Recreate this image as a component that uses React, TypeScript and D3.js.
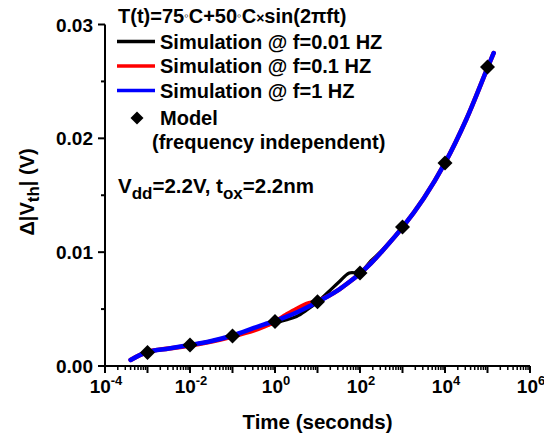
import React from "react";
import * as d3 from "d3";

// time in seconds (shared by all simulated series)
const timeS = [4e-4, 1e-3, 3.2e-3, 1e-2, 3.2e-2, 0.1, 0.32, 0.56, 1, 1.8, 3.2, 5.6, 10, 18, 32, 56, 100, 180, 320, 1000, 3200, 1e4, 3.2e4, 1e5, 1.4e5];
// ΔVth (V), f = 0.01 Hz
const simF001 = [0.00053, 0.00123, 0.00154, 0.00185, 0.0022, 0.00264, 0.00321, 0.00351, 0.00378, 0.00404, 0.00435, 0.00492, 0.00562, 0.0065, 0.00738, 0.00817, 0.00822, 0.00923, 0.01011, 0.01217, 0.01476, 0.01784, 0.0217, 0.02619, 0.0275];
// f = 0.1 Hz
const simF01 = [0.00053, 0.00123, 0.00154, 0.0018, 0.00215, 0.00259, 0.00312, 0.00347, 0.00391, 0.00448, 0.00501, 0.00545, 0.00571, 0.00615, 0.00672, 0.00738, 0.00813, 0.00901, 0.01002, 0.01217, 0.01476, 0.01784, 0.0217, 0.02619, 0.0275];
// f = 1 Hz
const simF1 = [0.00053, 0.00123, 0.00154, 0.00185, 0.0022, 0.00268, 0.00334, 0.00365, 0.00395, 0.00431, 0.0047, 0.00514, 0.00562, 0.00615, 0.00672, 0.00738, 0.00813, 0.00901, 0.01002, 0.01217, 0.01476, 0.01784, 0.0217, 0.02619, 0.0275];
// model points
const modelT = [1e-3, 1e-2, 1e-1, 1, 10, 100, 1e3, 1e4, 1e5];
const modelV = [0.00119, 0.00185, 0.00264, 0.00391, 0.00565, 0.00817, 0.01221, 0.01784, 0.02627];

const yTicks = [0, 0.01, 0.02, 0.03];
const yTickLabels = ["0.00", "0.01", "0.02", "0.03"];
const yMinorTicks = [0.005, 0.015, 0.025];
const xLabelExps = [-4, -2, 0, 2, 4, 6];
const xMajorExps = [-4, -3, -2, -1, 0, 1, 2, 3, 4, 5, 6];

const legendItems = [
  { label: "Simulation @ f=0.01 HZ", color: "#000000" },
  { label: "Simulation @ f=0.1 HZ", color: "#ff0000" },
  { label: "Simulation @ f=1 HZ", color: "#0000ff" },
];

const FONT = "'Liberation Sans', Arial, Helvetica, sans-serif";

export default function App() {
  const x = d3.scaleLog().domain([1e-4, 1e6]).range([105, 530]);
  const y = d3.scaleLinear().domain([0, 0.03]).range([366, 24.5]);

  const line = d3
    .line<[number, number]>()
    .x((d) => x(d[0]))
    .y((d) => y(d[1]))
    .curve(d3.curveCatmullRom.alpha(0.5));

  const series = [
    { vals: simF001, color: "#000000", w: 3.2 },
    { vals: simF01, color: "#ff0000", w: 4.5 },
    { vals: simF1, color: "#0000ff", w: 4.5 },
  ];

  const minorX: number[] = [];
  for (let e = -4; e < 6; e++) {
    for (let m = 2; m <= 9; m++) minorX.push(m * Math.pow(10, e));
  }

  const diamond = (cx: number, cy: number, r: number) =>
    `M${cx},${cy - r}L${cx + r},${cy}L${cx},${cy + r}L${cx - r},${cy}Z`;

  return (
    <svg
      width={544}
      height={439}
      style={{ position: "absolute", left: 0, top: 0, background: "#fff" }}
      fontFamily={FONT}
      fontWeight="bold"
    >
      <rect width={544} height={439} fill="#fff" />
      {/* series */}
      {series.map((s, i) => (
        <path
          key={i}
          d={line(timeS.map((t, j) => [t, s.vals[j]]) as [number, number][]) || ""}
          fill="none"
          stroke={s.color}
          strokeWidth={s.w}
          strokeLinecap="round"
        />
      ))}
      {modelT.map((t, i) => (
        <path key={i} d={diamond(x(t), y(modelV[i]), 7.5)} fill="#000" />
      ))}

      {/* axes */}
      <line x1={105} x2={105} y1={y(0.03)} y2={y(0) + 1} stroke="#000" strokeWidth={2} />
      <line x1={104} x2={530} y1={y(0)} y2={y(0)} stroke="#000" strokeWidth={2} />
      {yTicks.map((v, i) => (
        <g key={i}>
          <line x1={98} x2={105} y1={y(v)} y2={y(v)} stroke="#000" strokeWidth={2} />
          <text x={93} y={y(v) + 7} textAnchor="end" fontSize={19}>
            {yTickLabels[i]}
          </text>
        </g>
      ))}
      {yMinorTicks.map((v, i) => (
        <line key={i} x1={101} x2={105} y1={y(v)} y2={y(v)} stroke="#000" strokeWidth={2} />
      ))}
      {xMajorExps.map((e) => (
        <line key={e} x1={x(Math.pow(10, e))} x2={x(Math.pow(10, e))} y1={y(0)} y2={y(0) + 7} stroke="#000" strokeWidth={2} />
      ))}
      {minorX.map((v, i) => (
        <line key={i} x1={x(v)} x2={x(v)} y1={y(0)} y2={y(0) + 4} stroke="#000" strokeWidth={1.5} />
      ))}
      {xLabelExps.map((e) => (
        <text key={e} x={x(Math.pow(10, e)) + 1} y={393} textAnchor="middle" fontSize={19}>
          10
          <tspan fontSize={13} dy={-8}>
            {e}
          </tspan>
        </text>
      ))}
      <text x={317.5} y={429} textAnchor="middle" fontSize={20.5}>
        Time (seconds)
      </text>
      <text transform="translate(34,192) rotate(-90)" textAnchor="middle" fontSize={20}>
        Δ|V<tspan fontSize={17} dy={5}>th</tspan>
        <tspan dy={-5}>| (V)</tspan>
      </text>

      {/* legend */}
      <text x={118} y={23} fontSize={20}>
        T(t)=75<tspan fontSize={13} dy={-3}>◦</tspan>
        <tspan dy={3}>C+50</tspan>
        <tspan fontSize={13} dy={-3}>◦</tspan>
        <tspan dy={3}>C</tspan>
        <tspan fontSize={14}>×</tspan>
        <tspan>sin(2πft)</tspan>
      </text>
      {legendItems.map((it, i) => (
        <g key={i}>
          <line x1={117} x2={155} y1={41.5 + i * 24.5} y2={41.5 + i * 24.5} stroke={it.color} strokeWidth={3.5} />
          <text x={160} y={48.5 + i * 24.5} fontSize={20}>
            {it.label}
          </text>
        </g>
      ))}
      <path d={diamond(137, 118, 6.5)} fill="#000" />
      <text x={160} y={125} fontSize={20}>
        Model
      </text>
      <text x={152} y={149} fontSize={20}>
        (frequency independent)
      </text>
      <text x={118} y={193} fontSize={20.5}>
        V<tspan fontSize={17} dy={6}>dd</tspan>
        <tspan dy={-6}>=2.2V, t</tspan>
        <tspan fontSize={17} dy={6}>ox</tspan>
        <tspan dy={-6}>=2.2nm</tspan>
      </text>
    </svg>
  );
}
